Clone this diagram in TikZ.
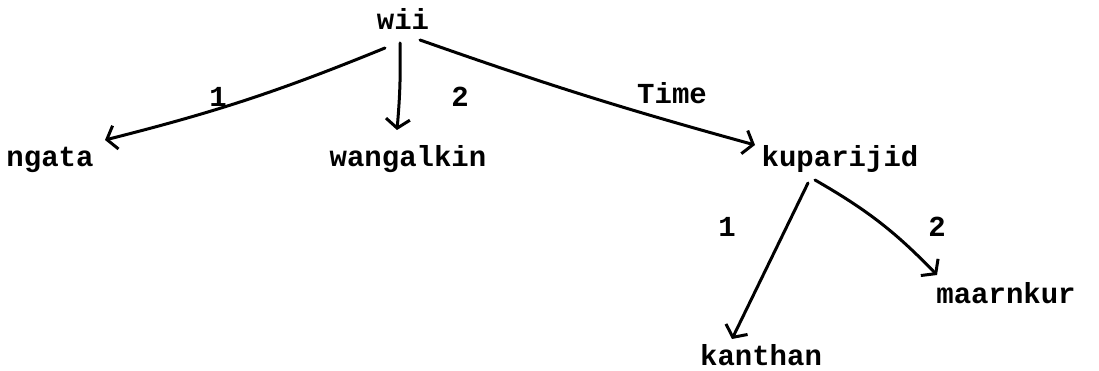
\documentclass[tikz,border=0pt]{standalone}
\usepackage{fontspec}
\setmonofont{Liberation Mono}
\usetikzlibrary{arrows.meta}
\tikzset{
  word/.style={font=\ttfamily\bfseries\fontsize{29}{32}\selectfont, inner sep=0pt, anchor=base},
  lab/.style={font=\ttfamily\bfseries\fontsize{29}{32}\selectfont, inner sep=0pt},
  arr/.style={line width=3pt, line cap=round, -{Straight Barb[length=9pt,width=24pt,line width=3pt]}}
}
\begin{document}
\begin{tikzpicture}[x=1pt,y=-1pt]
\fill[white] (0,0) rectangle (1099,371);
\useasboundingbox (0,0) rectangle (1099,371);
\node[word] (wii) at (403,30) {wii};
\node[word] (ngata) at (50,167) {ngata};
\node[word] (wangalkin) at (408,167) {wangalkin};
\node[word] (kuparijid) at (840,167) {kuparijid};
\node[word] (kanthan) at (761,365) {kanthan};
\node[word] (maarnkur) at (1006,303) {maarnkur};
\node[lab] (l1) at (218,97) {1};
\node[lab] (l2) at (460,97) {2};
\node[lab] (lt) at (672,93) {Time};
\node[lab] (l3) at (727,227) {1};
\node[lab] (l4) at (937,227) {2};
\draw[arr] ([shift={(-18,18)}]wii.base) to[bend left=4] ([shift={(55,-27)}]ngata.base);
\draw[arr] ([shift={(-3,13)}]wii.base) to[bend left=3] ([shift={(-11,-37)}]wangalkin.base);
\draw[arr] ([shift={(17,10)}]wii.base) to[bend right=2] ([shift={(-85,-22)}]kuparijid.base);
\draw[arr] ([shift={(-32,16)}]kuparijid.base) -- ([shift={(-29,-26)}]kanthan.base);
\draw[arr] ([shift={(-25,13)}]kuparijid.base) to[bend left=8] ([shift={(-69,-28)}]maarnkur.base);
\end{tikzpicture}
\end{document}
